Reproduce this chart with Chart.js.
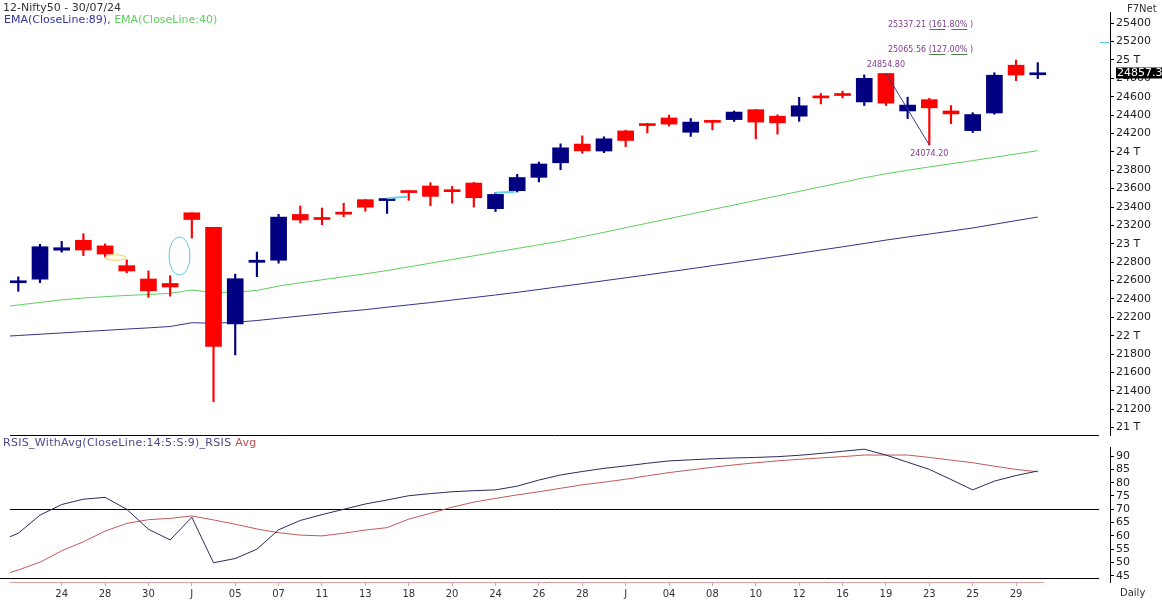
<!DOCTYPE html>
<html>
<head>
<meta charset="utf-8">
<script src="https://cdn.jsdelivr.net/npm/chart.js@4.4.1/dist/chart.umd.min.js"></script>
<style>
  html, body { margin: 0; padding: 0; background: #fff; }
  #wrap { position: relative; width: 1162px; height: 602px; overflow: hidden;
          font-family: "DejaVu Sans", Verdana, sans-serif; }
  canvas { position: absolute; left: 0; }
  #main { top: 0; }
  #rsi { top: 435px; }
  .lbl { position: absolute; white-space: nowrap; line-height: 13px; font-size: 11px; }
</style>
</head>
<body>
<div id="wrap">
  <canvas id="main" width="1162" height="447"></canvas>
  <canvas id="rsi" width="1162" height="167"></canvas>
  <div class="lbl" style="left:3px;top:1px;color:#333">12-Nifty50 - 30/07/24</div>
  <div class="lbl" style="left:4px;top:13px;"><span style="color:#3434a0">EMA(CloseLine:89), </span><span style="color:#5fcf5f">EMA(CloseLine:40)</span></div>
  <div class="lbl" style="left:1127px;top:3px;color:#333;font-size:10px;line-height:12px">F7Net</div>
  <div class="lbl" style="left:3px;top:436px;letter-spacing:0.3px"><span style="color:#4a4a8c">RSIS_WithAvg(CloseLine:14:5:S:9)_RSIS</span><span style="color:#c05050"> Avg</span></div>
  <div class="lbl" style="left:1120px;top:587px;color:#333;font-size:10px;line-height:12px">Daily</div>
</div>
<script>
// daily bars, 21 May .. 30 Jul 2024 (21 May is off the left edge)
const dates = ['21','22','23','24','27','28','29','30','31',
  '03','04','05','06','07','10','11','12','13','14','18','19','20','21','24','25','26','27','28',
  '01','02','03','04','05','08','09','10','11','12','15','16','18','19','22','23','24','25','26','29','30'];

const opens  = [null, 22576, 22615, 22930, 23038, 22977, 22762, 22617, 22568,
  23337, 23180, 22128, 22798, 22821, 23319, 23283, 23344, 23480, 23470, 23574, 23629, 23586, 23661, 23382, 23577, 23723, 23881, 24085,
  24009, 24228, 24291, 24369, 24213, 24330, 24351, 24459, 24388, 24388, 24600, 24615, 24543, 24853, 24445, 24568, 24445, 24231, 24423, 24943, 24839];
const highs  = [null, 22640, 22994, 23026, 23110, 22998, 22825, 22705, 22653,
  23338, 23180, 22670, 22910, 23320, 23411, 23389, 23441, 23481, 23480, 23579, 23665, 23624, 23668, 23558, 23755, 23889, 24087, 24174,
  24164, 24236, 24309, 24401, 24363, 24345, 24444, 24461, 24403, 24593, 24635, 24661, 24837, 24854.8, 24595, 24582, 24504, 24426, 24861, 24999, 24971];
const lows   = [null, 22483, 22577, 22908, 22871, 22858, 22685, 22417, 22430,
  23062, 21281, 21791, 22642, 22789, 23227, 23207, 23295, 23353, 23330, 23473, 23413, 23442, 23398, 23350, 23563, 23673, 23805, 23985,
  23992, 24056, 24207, 24281, 24168, 24240, 24331, 24141, 24193, 24332, 24522, 24587, 24504, 24504, 24362, 24074.2, 24307, 24210, 24410, 24775, 24798];
const closes = [null, 22597, 22968, 22957, 22932, 22888, 22704, 22488, 22530,
  23264, 21884, 22620, 22821, 23290, 23259, 23264, 23322, 23398, 23476, 23557, 23516, 23567, 23501, 23537, 23721, 23868, 24044, 24011,
  24142, 24124, 24286, 24302, 24324, 24321, 24433, 24324, 24316, 24502, 24587, 24613, 24800, 24530, 24509, 24479, 24413, 24406, 24834, 24836, 24857.3];

const ema89 = [21988, 22002, 22016, 22030, 22044, 22058, 22072, 22085, 22100,
  22141, 22135, 22146, 22165, 22190, 22214, 22238, 22262, 22283, 22310, 22335, 22360, 22388, 22415, 22443, 22472, 22503, 22535, 22566,
  22598, 22630, 22662, 22695, 22728, 22762, 22795, 22829, 22862, 22897, 22932, 22967, 23003, 23040, 23074, 23106, 23139, 23172, 23212, 23252, 23291];
const ema40 = [22306, 22334, 22362, 22390, 22410, 22425, 22438, 22448, 22461,
  22497, 22470, 22472, 22493, 22540, 22576, 22608, 22641, 22673, 22709, 22749, 22789, 22829, 22869, 22909, 22949, 22989, 23029, 23076,
  23125, 23175, 23224, 23274, 23323, 23373, 23422, 23472, 23521, 23570, 23620, 23669, 23718, 23762, 23800, 23836, 23870, 23905, 23941, 23977, 24013];

const rsis = [57.6, 61.0, 67.8, 71.8, 73.8, 74.5, 70.0, 62.5, 58.5,
  67.0, 49.9, 51.5, 55.0, 62.3, 65.8, 68.0, 70.0, 72.0, 73.5, 75.1, 75.9, 76.6, 77.0, 77.3, 78.7, 81.0, 82.9, 84.2,
  85.4, 86.3, 87.3, 88.2, 88.6, 89.0, 89.3, 89.5, 89.8, 90.3, 91.0, 91.8, 92.6, 90.4, 87.7, 85.0, 81.2, 77.3, 80.6, 82.7, 84.4];
const rsisAvg = [44.6, 47.2, 50.1, 54.4, 57.8, 61.8, 64.7, 66.1, 66.6,
  67.5, 66.0, 64.4, 62.6, 61.2, 60.3, 60.0, 61.0, 62.2, 63.1, 66.3, 68.5, 70.8, 72.7, 74.1, 75.4, 76.6, 77.9, 79.2,
  80.2, 81.3, 82.6, 83.8, 84.8, 85.8, 86.7, 87.5, 88.2, 88.8, 89.3, 89.8, 90.4, 90.4, 90.4, 89.5, 88.5, 87.5, 86.2, 85.0, 84.1];

// one label every second bar, starting with 24 May
const tickLabels = ['24','28','30','J','05','07','11','13','18','20','24','26','28','J','04','08','10','12','16','19','23','25','29'];
const priceTicks = [21000,21200,21400,21600,21800,22000,22200,22400,22600,22800,23000,23200,23400,23600,23800,24000,24200,24400,24600,24800,25000,25200,25400];
const rsiTicks = [45,50,55,60,65,70,75,80,85,90];

// drawing objects
const fibHigh = 24854.80, fibHighBar = 41;
const fibLow = 24074.20, fibLowBar = 43;
const fibLevels = [{price: 25337.21, pct: '161.80%'}, {price: 25065.56, pct: '127.00%'}];
const lastPrice = 24857.3;
const markerPrice = 25200;

const UP = '#000080', DOWN = '#ff0000';
const FONT = '"DejaVu Sans", Verdana, sans-serif';
Chart.defaults.font.family = FONT;

const xMin = 0.617, xMax = 51.33;
const idx = dates.map((d, i) => i);
const bars = idx.filter(i => opens[i] != null);
const barColors = bars.map(i => closes[i] >= opens[i] ? UP : DOWN);
const lastBar = bars[bars.length - 1];

const drawings = {
  id: 'drawings',
  afterDatasetsDraw(chart) {
    const {ctx, scales: {x, y}} = chart;
    ctx.save();
    ctx.font = '8px ' + FONT;
    ctx.fillStyle = '#7d3c8c';
    ctx.textAlign = 'center';
    ctx.textBaseline = 'middle';
    ctx.fillText(fibHigh.toFixed(2), x.getPixelForValue(fibHighBar), y.getPixelForValue(fibHigh) - 8);
    ctx.fillText(fibLow.toFixed(2), x.getPixelForValue(fibLowBar), y.getPixelForValue(fibLow) + 9);

    ctx.textAlign = 'left';
    ctx.textBaseline = 'alphabetic';
    fibLevels.forEach(l => {
      const py = Math.round(y.getPixelForValue(l.price)) + 0.5;
      ctx.fillStyle = '#7d3c8c';
      ctx.fillText(l.price.toFixed(2) + ' (' + l.pct + ' )', x.getPixelForValue(fibHighBar) + 2, py - 3);
      ctx.strokeStyle = '#4b7d4b';
      ctx.lineWidth = 1;
      ctx.setLineDash([16, 6]);
      ctx.beginPath();
      ctx.moveTo(x.getPixelForValue(fibLowBar), py);
      ctx.lineTo(x.getPixelForValue(fibLowBar + 1.8), py);
      ctx.stroke();
      ctx.setLineDash([]);
    });

    // ellipse marks
    ctx.lineWidth = 1;
    ctx.strokeStyle = '#5cc8d8';
    ctx.beginPath();
    ctx.ellipse(x.getPixelForValue(8.43), y.getPixelForValue(22867), 10.5, 19, 0, 0, Math.PI * 2);
    ctx.stroke();
    ctx.fillStyle = '#fffbe4';
    ctx.strokeStyle = '#e6d670';
    ctx.beginPath();
    ctx.ellipse(x.getPixelForValue(5.48), y.getPixelForValue(22850), 10.5, 2.8, 0, 0, Math.PI * 2);
    ctx.fill();
    ctx.stroke();

    // short cyan segments
    ctx.strokeStyle = '#66d4e6';
    ctx.lineWidth = 2;
    [[18, 23495, 18.92, 23512], [22.98, 23556, 23.9, 23566]].forEach(s => {
      ctx.beginPath();
      ctx.moveTo(x.getPixelForValue(s[0]), y.getPixelForValue(s[1]));
      ctx.lineTo(x.getPixelForValue(s[2]), y.getPixelForValue(s[3]));
      ctx.stroke();
    });
    ctx.restore();
  },
  afterDraw(chart) {
    const {ctx, chartArea: a, scales: {y}} = chart;
    ctx.save();
    const my = Math.round(y.getPixelForValue(markerPrice)) + 0.5;
    ctx.strokeStyle = '#5cc8d8';
    ctx.lineWidth = 1;
    ctx.beginPath();
    ctx.moveTo(a.right - 10, my);
    ctx.lineTo(a.right - 1, my);
    ctx.stroke();

    const py = y.getPixelForValue(lastPrice);
    ctx.fillStyle = '#000';
    ctx.fillRect(a.right + 6, Math.round(py) - 5.5, 60, 11);
    ctx.fillStyle = '#fff';
    ctx.font = '11px ' + FONT;
    ctx.textAlign = 'left';
    ctx.textBaseline = 'middle';
    ctx.fillText(lastPrice.toFixed(1), a.right + 7, py + 0.5);
    ctx.restore();
  }
};

new Chart(document.getElementById('main'), {
  type: 'line',
  data: {
    datasets: [
      { type: 'line', data: [{x: fibHighBar, y: fibHigh}, {x: fibLowBar, y: fibLow}],
        borderColor: '#3c3c8c', borderWidth: 1, pointRadius: 0, order: 0 },
      { type: 'bar', data: bars.map(i => ({x: i, y: [opens[i], closes[i]]})),
        backgroundColor: barColors, barThickness: 16, minBarLength: 2, grouped: false, order: 1 },
      { type: 'bar', data: bars.map(i => ({x: i, y: [lows[i], highs[i]]})),
        backgroundColor: barColors, barThickness: 1.5, grouped: false, order: 2 },
      { type: 'line', data: idx.map(i => ({x: i, y: ema40[i]})),
        borderColor: '#5fcf5f', borderWidth: 1, pointRadius: 0, order: 3 },
      { type: 'line', data: idx.map(i => ({x: i, y: ema89[i]})),
        borderColor: '#33338a', borderWidth: 1, pointRadius: 0, order: 4 }
    ]
  },
  options: {
    responsive: false,
    animation: false,
    devicePixelRatio: 1,
    layout: { padding: { left: 10, top: 12, right: 0, bottom: 12 } },
    plugins: { legend: { display: false }, tooltip: { enabled: false } },
    scales: {
      x: { type: 'linear', display: false, offset: false, grid: { offset: false }, min: xMin, max: xMax },
      y: {
        position: 'right',
        min: 20919.5,
        max: 25521.7,
        afterBuildTicks: s => { s.ticks = priceTicks.map(v => ({value: v})); },
        afterFit: s => { s.width = 52; },
        ticks: {
          autoSkip: false,
          padding: 2,
          color: '#222',
          font: { size: 11 },
          callback: v => v % 1000 === 0 ? (v / 1000) + ' T' : String(v)
        },
        grid: { drawOnChartArea: false, drawTicks: true, tickLength: 4, color: '#000' },
        border: { display: true, color: '#000' }
      }
    }
  },
  plugins: [drawings]
});

const rsiFrame = {
  id: 'rsiFrame',
  beforeDatasetsDraw(chart) {
    const {ctx, chartArea: a, scales: {x, y}} = chart;
    const right = a.right - 11;
    const hline = (x0, x1, yy) => { ctx.beginPath(); ctx.moveTo(x0, yy); ctx.lineTo(x1, yy); ctx.stroke(); };
    ctx.save();
    ctx.lineWidth = 1;
    ctx.strokeStyle = '#000';
    hline(a.left, right, 0.5);
    hline(a.left, right, Math.round(y.getPixelForValue(70)) + 0.5);
    hline(0, right, a.bottom - 3.5);
    ctx.strokeStyle = '#e0a0a0';
    hline(a.left, x.getPixelForValue(lastBar + 0.3), a.bottom + 0.5);
    ctx.restore();
  }
};

new Chart(document.getElementById('rsi'), {
  type: 'line',
  data: {
    datasets: [
      { data: idx.map(i => ({x: i, y: rsis[i]})), borderColor: '#2b2b5e', borderWidth: 1, pointRadius: 0 },
      { data: idx.map(i => ({x: i, y: rsisAvg[i]})), borderColor: '#c25a5a', borderWidth: 1, pointRadius: 0 }
    ]
  },
  options: {
    responsive: false,
    animation: false,
    devicePixelRatio: 1,
    layout: { padding: { left: 10, top: 12, right: 0, bottom: 0 } },
    plugins: { legend: { display: false }, tooltip: { enabled: false } },
    scales: {
      x: {
        type: 'linear',
        min: xMin,
        max: xMax,
        afterBuildTicks: s => { s.ticks = tickLabels.map((t, k) => ({value: 3 + 2 * k})); },
        afterFit: s => { s.height = 20; },
        ticks: {
          autoSkip: false,
          maxRotation: 0,
          padding: 2,
          color: '#333',
          font: { size: 10 },
          callback: (v, k) => tickLabels[k]
        },
        grid: { drawOnChartArea: false, drawTicks: true, tickLength: 4, color: '#e0a0a0' },
        border: { display: false }
      },
      y: {
        position: 'right',
        min: 42.67,
        max: 93.42,
        afterBuildTicks: s => { s.ticks = rsiTicks.map(v => ({value: v})); },
        afterFit: s => { s.width = 52; },
        ticks: { autoSkip: false, padding: 2, color: '#222', font: { size: 11 } },
        grid: { drawOnChartArea: false, drawTicks: true, tickLength: 4, color: '#000' },
        border: { display: true, color: '#000' }
      }
    }
  },
  plugins: [rsiFrame]
});
</script>
</body>
</html>
